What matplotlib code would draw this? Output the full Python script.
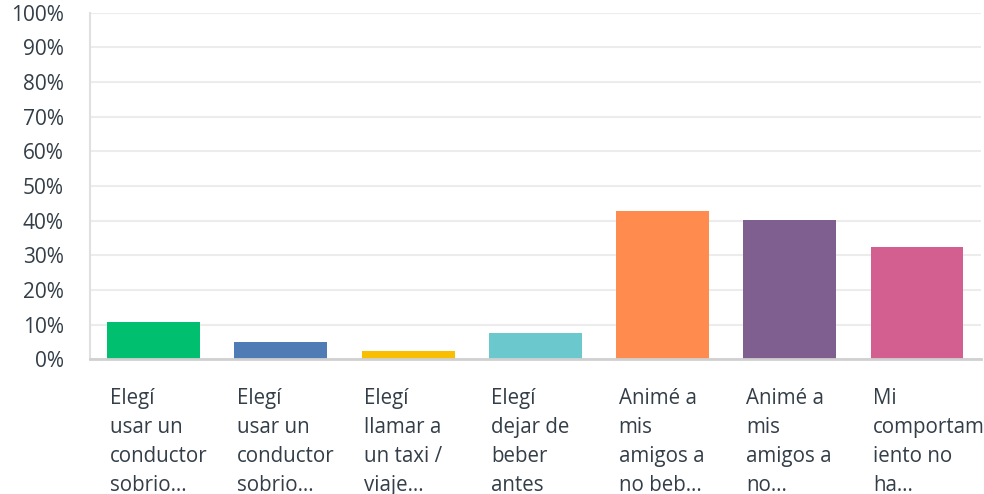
import numpy as np
import matplotlib
matplotlib.use("Agg")
import matplotlib.pyplot as plt

# datos
etiquetas = [
    "Elegí\nusar un\nconductor\nsobrio…",
    "Elegí\nusar un\nconductor\nsobrio…",
    "Elegí\nllamar a\nun taxi /\nviaje…",
    "Elegí\ndejar de\nbeber\nantes",
    "Animé a\nmis\namigos a\nno beb…",
    "Animé a\nmis\namigos a\nno…",
    "Mi\ncomportam\niento no\nha…",
]
valores = [10.7, 4.9, 2.3, 7.5, 42.8, 40.2, 32.4]
colores = ["#00bf6f", "#507cb6", "#f9be00", "#6bc8cd", "#ff8b4f", "#7f5f90", "#d25f90"]
ticks_y = [0, 10, 20, 30, 40, 50, 60, 70, 80, 90, 100]

plt.rcParams['font.family'] = ['Open Sans', 'DejaVu Sans']
texto = "#333e48"

fig = plt.figure(figsize=(9.84, 4.94), dpi=100)
ax = fig.add_axes([0.0915, 0.273, 0.905, 0.701])

x = np.arange(len(valores))
ancho = 0.73
ax.bar(x, valores, width=ancho, color=colores, zorder=3)

ax.set_xlim(-0.5, len(valores) - 0.5)
ax.set_ylim(0, 100)
ax.set_yticks(ticks_y)
ax.set_yticklabels([f"{t}%" for t in ticks_y], fontsize=15, color=texto)
ax.tick_params(axis='y', length=0, pad=19)
ax.set_xticks([])
ax.grid(axis='y', color="#ececec", linewidth=1.5, zorder=0)

for s in ['top', 'right']:
    ax.spines[s].set_visible(False)
ax.spines['left'].set_color("#e0e0e0")
ax.spines['left'].set_linewidth(1.5)
ax.spines['bottom'].set_color("#d0d0d0")
ax.spines['bottom'].set_linewidth(2)
ax.spines['bottom'].set_zorder(4)

# etiquetas de categoria, alineadas a la izquierda de cada barra
for i, et in enumerate(etiquetas):
    ax.text(i - ancho / 2 + 0.02, -0.082, et, transform=ax.get_xaxis_transform(),
            ha='left', va='top', fontsize=14.8, color=texto, linespacing=1.5)

fig.savefig("out.png", dpi=100)
